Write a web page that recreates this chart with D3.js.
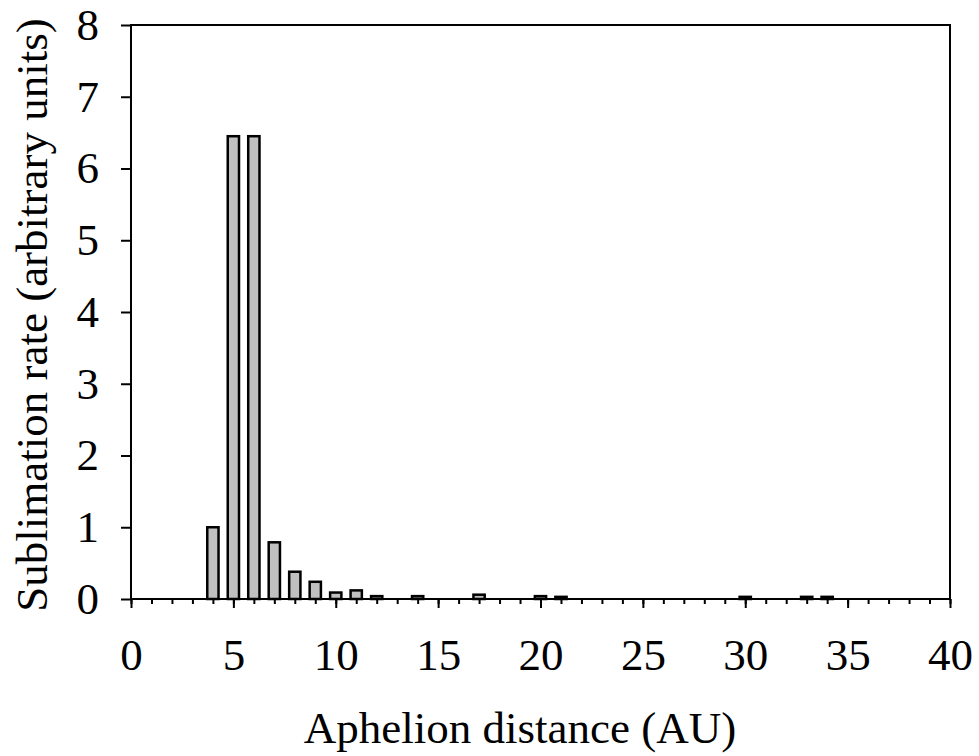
<!DOCTYPE html>
<html>
<head>
<meta charset="utf-8">
<script src="https://cdn.jsdelivr.net/npm/d3@7"></script>
<style>
  html, body { margin: 0; padding: 0; background: #fff; }
  svg { display: block; }
  text { font-family: "Liberation Serif", "Times New Roman", serif; fill: #000; }
</style>
</head>
<body>
<svg id="chart" width="979" height="756"></svg>
<script>
// Data
const distances = [4, 5, 6, 7, 8, 9, 10, 11, 12, 14, 17, 20, 21, 30, 33, 34];
const rates     = [1.0, 6.45, 6.45, 0.79, 0.38, 0.24, 0.09, 0.12, 0.04, 0.04, 0.06, 0.04, 0.03, 0.03, 0.03, 0.03];
const xMajorTicks = [0, 5, 10, 15, 20, 25, 30, 35, 40];
const yTicks = [0, 1, 2, 3, 4, 5, 6, 7, 8];
const xTitle = "Aphelion distance (AU)";
const yTitle = "Sublimation rate (arbitrary units)";

const svg = d3.select("#chart");
const mLeft = 131, mRight = 950, mTop = 25, mBottom = 599;

const x = d3.scaleLinear().domain([0, 40]).range([mLeft, mRight]);
const y = d3.scaleLinear().domain([0, 8]).range([mBottom, mTop]);
const barW = (x(1) - x(0)) * 0.55;

// bars
svg.append("g").selectAll("rect")
  .data(distances.map((d, i) => ({ d, v: rates[i] })))
  .join("rect")
  .attr("x", p => x(p.d) - barW / 2)
  .attr("y", p => y(p.v))
  .attr("width", barW)
  .attr("height", p => y(0) - y(p.v))
  .attr("fill", "#c0c0c0")
  .attr("stroke", "#000")
  .attr("stroke-width", 2.5);

// x minor ticks
const xMinor = svg.append("g").attr("transform", `translate(0,${mBottom})`)
  .call(d3.axisBottom(x).tickValues(d3.range(0, 41)).tickSize(5).tickSizeOuter(0).tickFormat(""));
xMinor.select(".domain").remove();

// x major ticks
const xAxis = svg.append("g").attr("transform", `translate(0,${mBottom})`)
  .call(d3.axisBottom(x).tickValues(xMajorTicks).tickSize(9).tickSizeOuter(0).tickPadding(30));
xAxis.selectAll("text").attr("font-size", 45).attr("font-family", "Liberation Serif");
xAxis.select(".domain").remove();

// y axis
const yAxis = svg.append("g").attr("transform", `translate(${mLeft},0)`)
  .call(d3.axisLeft(y).tickValues(yTicks).tickSize(10).tickSizeOuter(0).tickPadding(22));
yAxis.selectAll("text").attr("font-size", 45).attr("font-family", "Liberation Serif");
yAxis.select(".domain").remove();

svg.selectAll(".tick line").attr("stroke", "#000").attr("stroke-width", 2);

// frame
svg.append("rect")
  .attr("x", mLeft).attr("y", mTop)
  .attr("width", mRight - mLeft).attr("height", mBottom - mTop)
  .attr("fill", "none").attr("stroke", "#000").attr("stroke-width", 2);

// titles
svg.append("text")
  .attr("x", 520).attr("y", 743)
  .attr("text-anchor", "middle")
  .attr("font-size", 45)
  .text(xTitle);

svg.append("text")
  .attr("transform", `translate(47,${(mTop + mBottom) / 2 + 3}) rotate(-90)`)
  .attr("text-anchor", "middle")
  .attr("font-size", 45)
  .text(yTitle);
</script>
</body>
</html>
